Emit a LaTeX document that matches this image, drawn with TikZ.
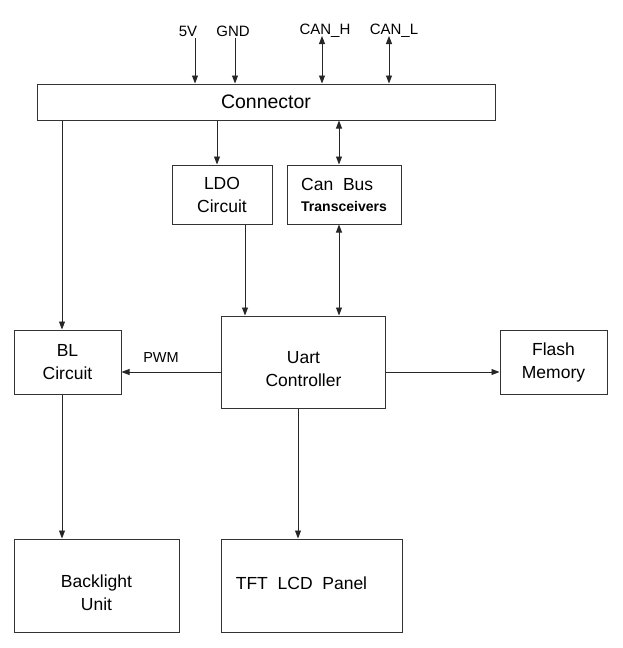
\documentclass[tikz,border=0pt]{standalone}
\usepackage{fontspec}
\setmainfont{Liberation Sans}
\usetikzlibrary{positioning,arrows.meta}
\tikzset{
  blk/.style={draw=black!80, line width=1pt, align=center, inner sep=0pt,
    font=\fontsize{17.5}{23}\selectfont},
  blktext/.style={align=center, inner sep=0pt, font=\fontsize{17.5}{23}\selectfont},
  arr/.style={draw=black!85, line width=0.9pt, -{Triangle[length=8pt,width=6pt]}},
  darr/.style={arr, {Triangle[length=8pt,width=6pt]}-{Triangle[length=8pt,width=6pt]}},
  pinlbl/.style={font=\fontsize{15}{18}\selectfont, inner sep=0pt},
}
\begin{document}
\begin{tikzpicture}[x=1pt,y=-1pt]
  \useasboundingbox (0,0) rectangle (623,648);
  % blocks
  \node[blk, minimum width=458, minimum height=36, font=\fontsize{19.5}{23}\selectfont]
    (conn) at (266,102) {Connector};
  \node[blk, minimum width=100, minimum height=59] (ldo) at (222,194.5) {LDO\\Circuit};
  \node[blk, minimum width=114, minimum height=59, align=left] (can) at (344,194.5)
    {Can\ \ Bus\\[-2pt]{\fontsize{14}{18}\selectfont\bfseries Transceivers}};
  \node[blk, minimum width=107, minimum height=64] (bl) at (67.5,362) {BL\\Circuit};
  \node[blk, minimum width=164, minimum height=92,
    label={[name=uartt, blktext, yshift=-7pt]center:Uart\\Controller}] (uart) at (303.5,362) {};
  \node[blk, minimum width=107, minimum height=64] (flash) at (553.5,362) {Flash\\Memory};
  \node[blk, minimum width=165, minimum height=93,
    label={[name=backt, blktext, yshift=-7pt]center:Backlight\\Unit}] (back) at (96.5,585.5) {};
  \node[blk, minimum width=181, minimum height=93,
    label={[name=tftt, blktext, xshift=-10pt, yshift=2pt]center:TFT\ \ LCD\ \ Panel}] (tft) at (311.5,585.5) {};
  % pins on top
  \node[pinlbl] (l5v) at (188,31) {5V};
  \node[pinlbl] (lgnd) at (233,31) {GND};
  \node[pinlbl] (lcanh) at (325,31) {CAN\_H};
  \node[pinlbl] (lcanl) at (394,31) {CAN\_L};
  \coordinate (t5v) at (195,38);
  \coordinate (tgnd) at (235,38);
  \coordinate (tcanh) at (322,36);
  \coordinate (tcanl) at (389,36);
  \draw[arr] (t5v) -- (t5v |- conn.north);
  \draw[arr] (tgnd) -- (tgnd |- conn.north);
  \draw[darr] (tcanh) -- (tcanh |- conn.north);
  \draw[darr] (tcanl) -- (tcanl |- conn.north);
  % columns of the vertical links
  \coordinate (cbl) at (62,0);
  \coordinate (cldo) at (217,0);
  \coordinate (cpwr) at (245,0);
  \coordinate (ccan) at (339,0);
  \coordinate (ctft) at (298,0);
  \coordinate (rowmid) at (0,372);
  \draw[arr] (cldo |- conn.south) -- (cldo |- ldo.north);
  \draw[darr] (ccan |- conn.south) -- (ccan |- can.north);
  \draw[arr] (cbl |- conn.south) -- (cbl |- bl.north);
  \draw[arr] (cpwr |- ldo.south) -- (cpwr |- uart.north);
  \draw[darr] (ccan |- can.south) -- (ccan |- uart.north);
  \draw[arr] (uart.west |- rowmid) -- (bl.east |- rowmid);
  \node[pinlbl, font=\fontsize{14.5}{18}\selectfont] (pwm) at (161,358) {PWM};
  \draw[arr] (uart.east |- rowmid) -- (flash.west |- rowmid);
  \draw[arr] (cbl |- bl.south) -- (cbl |- back.north);
  \draw[arr] (ctft |- uart.south) -- (ctft |- tft.north);
\end{tikzpicture}
\end{document}
